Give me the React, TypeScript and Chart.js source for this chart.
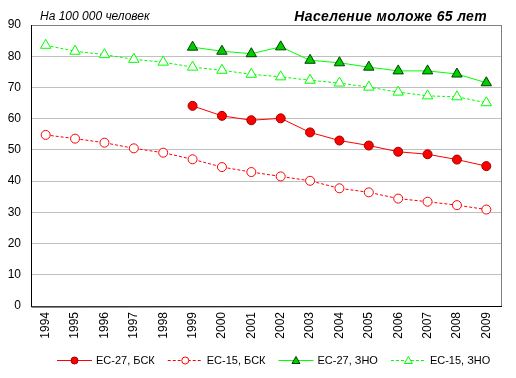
import React, { useEffect, useRef } from "react";
import { Chart, registerables } from "chart.js";

Chart.register(...registerables);

const years = ["1994","1995","1996","1997","1998","1999","2000","2001","2002","2003","2004","2005","2006","2007","2008","2009"];
const eu27Bsk = [null, null, null, null, null, 64.1, 60.9, 59.5, 60.1, 55.6, 53.0, 51.4, 49.4, 48.6, 46.9, 44.8];
const eu15Bsk = [54.8, 53.6, 52.3, 50.5, 49.1, 47.0, 44.5, 42.9, 41.5, 40.1, 37.7, 36.4, 34.4, 33.4, 32.3, 30.9];
const eu27Zno = [null, null, null, null, null, 82.9, 81.6, 80.8, 83.0, 78.7, 77.9, 76.5, 75.3, 75.3, 74.3, 71.5];
const eu15Zno = [83.5, 81.6, 80.5, 79.0, 78.1, 76.5, 75.5, 74.2, 73.4, 72.3, 71.4, 70.1, 68.5, 67.3, 67.0, 65.1];
const yTicks = [0, 10, 20, 30, 40, 50, 60, 70, 80, 90];
const titleText = "Население моложе 65 лет";
const subtitleText = "На 100 000 человек";

const seriesNames = ["ЕС-27, БСК", "ЕС-15, БСК", "ЕС-27, ЗНО", "ЕС-15, ЗНО"];

export default function App() {
  const ref = useRef<HTMLCanvasElement | null>(null);
  useEffect(() => {
    document.body.style.margin = "0";
    const canvas = ref.current!;
    const dash = [3, 2];
    const datasets: any[] = [
      {
        label: seriesNames[0], data: eu27Bsk, borderColor: "#FF0000", borderWidth: 1,
        pointStyle: "circle", pointRadius: 4.5, pointBackgroundColor: "#FF0000", pointBorderColor: "#A00000", pointBorderWidth: 1,
      },
      {
        label: seriesNames[1], data: eu15Bsk, borderColor: "#FF0000", borderWidth: 1, borderDash: dash,
        pointStyle: "circle", pointRadius: 4.5, pointBackgroundColor: "#FFFFFF", pointBorderColor: "#FF0000", pointBorderWidth: 1,
      },
      {
        label: seriesNames[2], data: eu27Zno, borderColor: "#00FF00", borderWidth: 1,
        pointStyle: "triangle", pointRadius: 6, pointBackgroundColor: "#00CC00", pointBorderColor: "#004000", pointBorderWidth: 1,
      },
      {
        label: seriesNames[3], data: eu15Zno, borderColor: "#00FF00", borderWidth: 1, borderDash: dash,
        pointStyle: "triangle", pointRadius: 6, pointBackgroundColor: "#FFFFFF", pointBorderColor: "#00FF00", pointBorderWidth: 1,
      },
    ];

    const framePlugin = {
      id: "frame",
      beforeDraw(chart: any) {
        const { ctx, width, height } = chart;
        ctx.save();
        ctx.fillStyle = "#FFFFFF";
        ctx.fillRect(0, 0, width, height);
        ctx.restore();
      },
      beforeDatasetsDraw(chart: any) {
        const { ctx, chartArea: a } = chart;
        ctx.save();
        ctx.strokeStyle = "#808080";
        ctx.lineWidth = 1;
        ctx.strokeRect(Math.round(a.left) + 0.5, Math.round(a.top) + 0.5, Math.round(a.right - a.left), Math.round(a.bottom - a.top));
        ctx.strokeStyle = "#000000";
        ctx.beginPath();
        ctx.moveTo(Math.round(a.left) + 0.5, Math.round(a.top));
        ctx.lineTo(Math.round(a.left) + 0.5, Math.round(a.bottom) + 1);
        ctx.lineTo(Math.round(a.right) + 1, Math.round(a.bottom) + 0.5);
        ctx.stroke();
        ctx.restore();
      },
      afterDraw(chart: any) {
        const { ctx } = chart;
        ctx.save();
        ctx.fillStyle = "#000";
        ctx.textBaseline = "alphabetic";
        ctx.font = "italic 12px Arial, 'Liberation Sans', sans-serif";
        ctx.textAlign = "left";
        ctx.fillText(subtitleText, 40, 20);
        ctx.font = "italic bold 14px Arial, 'Liberation Sans', sans-serif";
        (ctx as any).letterSpacing = "0.35px";
        ctx.textAlign = "right";
        ctx.fillText(titleText, 487, 21);
        (ctx as any).letterSpacing = "0px";

        // legend
        ctx.font = "11px Arial, 'Liberation Sans', sans-serif";
        ctx.textAlign = "left";
        ctx.textBaseline = "middle";
        const y = 360;
        const lineW = 35;
        const gap = 4;
        const itemGap = 13;
        let x = 57;
        datasets.forEach((ds, i) => {
          ctx.save();
          ctx.strokeStyle = ds.borderColor;
          ctx.lineWidth = 1;
          ctx.setLineDash(ds.borderDash || []);
          ctx.beginPath();
          ctx.moveTo(x, y + 0.5);
          ctx.lineTo(x + lineW, y + 0.5);
          ctx.stroke();
          ctx.restore();
          ctx.save();
          ctx.setLineDash([]);
          ctx.fillStyle = ds.pointBackgroundColor;
          ctx.strokeStyle = ds.pointBorderColor;
          ctx.lineWidth = 1;
          const cx = x + lineW / 2;
          ctx.beginPath();
          if (ds.pointStyle === "circle") {
            ctx.arc(cx, y + 0.5, 3.5, 0, Math.PI * 2);
          } else {
            ctx.moveTo(cx, y - 3.5);
            ctx.lineTo(cx + 4, y + 3.5);
            ctx.lineTo(cx - 4, y + 3.5);
            ctx.closePath();
          }
          ctx.fill();
          ctx.stroke();
          ctx.restore();
          ctx.fillStyle = "#000";
          const tx = x + lineW + gap;
          ctx.fillText(seriesNames[i], tx, y + 1);
          x = tx + ctx.measureText(seriesNames[i]).width + itemGap;
        });
        ctx.restore();
      },
    };

    const chart = new Chart(canvas, {
      type: "line",
      data: { labels: years, datasets },
      options: {
        responsive: false,
        animation: false,
        layout: { padding: { top: 25, right: 15, left: 0, bottom: 0 } },
        plugins: { legend: { display: false }, tooltip: { enabled: false }, title: { display: false } },
        elements: { line: { tension: 0 } },
        scales: {
          x: {
            offset: true,
            grid: { display: false, drawTicks: false },
            border: { display: false },
            ticks: {
              minRotation: 90, maxRotation: 90, padding: 6, autoSkip: false,
              color: "#000", font: { family: "Arial, 'Liberation Sans', sans-serif", size: 12 },
            },
            afterFit: (s: any) => { s.height = 72; },
          },
          y: {
            min: 0, max: 90,
            afterBuildTicks: (s: any) => { s.ticks = yTicks.map((v) => ({ value: v })); },
            grid: { color: "#C0C0C0", drawTicks: false, lineWidth: 1 },
            border: { display: false },
            ticks: {
              padding: 10, color: "#000", font: { family: "Arial, 'Liberation Sans', sans-serif", size: 12 },
            },
            afterFit: (s: any) => { s.width = 31; },
          },
        },
      },
      plugins: [framePlugin],
    } as any);
    return () => chart.destroy();
  }, []);
  return (
    <div style={{ position: "absolute", left: 0, top: 0, width: 516, height: 378 }}>
      <canvas ref={ref} width={516} height={378} />
    </div>
  );
}
